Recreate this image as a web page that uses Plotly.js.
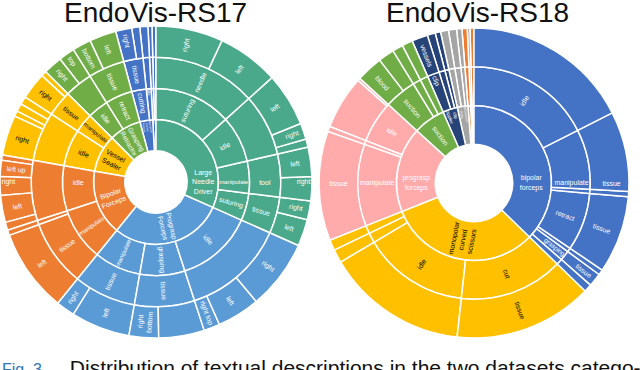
<!DOCTYPE html>
<html><head><meta charset="utf-8">
<script src="https://cdn.plot.ly/plotly-3.0.1.min.js"></script>
<style>html,body{margin:0;padding:0;background:#fff}#chart{width:640px;height:370px}</style>
</head><body><div id="chart"></div>
<script>
// ---------- EndoVis-RS17 (clockwise from 12 o'clock) ----------
const rs17Ids = ["R17",
 "LND","LND/sut","LND/sut/needle","LND/sut/needle/r","LND/sut/needle/l",
 "LND/idle","LND/idle/-","LND/idle/-/l","LND/idle/-/r","LND/idle/-/x",
 "LND/man","LND/man/tool","LND/man/tool/l","LND/man/tool/r",
 "LND/sut2","LND/sut2/tissue","LND/sut2/tissue/r","LND/sut2/tissue/l",
 "PF","PF/idle","PF/idle/-","PF/idle/-/r","PF/idle/-/l","PF/idle/-/rt",
 "PF/grasp","PF/grasp/tissue","PF/grasp/tissue/x","PF/grasp/tissue/rb",
 "PF/man","PF/man/tissue","PF/man/tissue/l","PF/man/tissue/r",
 "BF","BF/man","BF/man/tissue","BF/man/tissue/l","BF/man/-","BF/man/-/x",
 "BF/idle","BF/idle/-","BF/idle/-/x","BF/idle/-/l","BF/idle/-/r","BF/idle/-/lu","BF/idle/-/y",
 "VS","VS/idle","VS/idle/-","VS/idle/-/r","VS/idle/-/x","VS/idle/-/y","VS/idle/-/z",
 "VS/man","VS/man/tissue","VS/man/tissue/r","VS/man/tissue/x",
 "GR","GR/idle","GR/idle/-","GR/idle/-/r","GR/idle/-/t",
 "GR/ret","GR/ret/tissue","GR/ret/tissue/b","GR/ret/tissue/l",
 "MCS","MCS/cut","MCS/cut/tissue","MCS/cut/tissue/r","MCS/cut/tissue/x",
 "MCS/idle","MCS/idle/-","MCS/idle/-/x",
 "UP","UP/idle","UP/idle/-","UP/idle/-/x","UP/b","UP/b/-","UP/b/-/x"];
const rs17Labels = ["",
 "Large<br>Needle<br>Driver","suturing","needle","right","left",
 "idle","","left","right","",
 "manipulate","tool","left","right",
 "suturing","tissue","right","left",
 "Prograsp<br>Forceps","idle","","right","left","right top",
 "grasping","tissue","","right<br>bottom",
 "manipulate","tissue","left","right",
 "Bipolar<br>Forceps","manipulate","tissue","left","","",
 "idle","","","left","right","left up","",
 "Vessel<br>Sealer","idle","","right","","","",
 "manipulate","tissue","right","",
 "Grasping<br>Retractor","idle","","right","top",
 "retract","tissue","bottom","left",
 "Monopolar<br>Curved<br>Scissors","cutting","tissue","right","",
 "idle","","",
 "Ultrasound<br>Probe","idle","","","","",""];
const rs17Parents = rs17Ids.map(id => id === "R17" ? "" : (id.includes("/") ? id.slice(0, id.lastIndexOf("/")) : "R17"));
const rs17Values = [0,
 0,0,0,25,23,
 0,0,20,6,3,
 0,0,11,9,
 0,0,7,10,
 0,0,0,26,16,6,
 0,0,17,11,
 0,0,22,7,
 0,0,0,31,0,2,
 0,0,3,10,7,6,2,
 0,0,0,15,2,3,3,
 0,0,10,2,
 0,0,0,7,6,
 0,0,7,10,
 0,0,0,6,3,
 0,0,3,
 0,0,0,1.5,0,0,1.5];

// ---------- EndoVis-RS18 ----------
const rs18Ids = ["R18",
 "BPF","BPF/idle","BPF/idle/-","BPF/man","BPF/man/t","BPF/a","BPF/a/-",
 "BPF/ret","BPF/ret/t","BPF/b","BPF/b/-","BPF/gr","BPF/gr/t","BPF/c","BPF/c/-",
 "MCS","MCS/cut","MCS/cut/t","MCS/idle","MCS/idle/-","MCS/a","MCS/a/-","MCS/b","MCS/b/-",
 "PGF","PGF/man","PGF/man/t","PGF/a","PGF/a/-","PGF/idle","PGF/idle/-","PGF/idle/x",
 "SUC","SUC/suc","SUC/suc/blood","SUC/suc/-","SUC/a","SUC/a/-","SUC/b","SUC/b/-",
 "CA","CA/clip","CA/clip/v","CA/a","CA/a/-","CA/b","CA/b/-",
 "US","US/a","US/a/-","US/b","US/b/-","US/c","US/c/-",
 "LN","LN/a","LN/a/-",
 "ST","ST/a","ST/a/-",
 "OT","OT/a","OT/a/-"];
const rs18Labels = ["",
 "bipolar<br>forceps","idle","","manipulate","tissue","","",
 "retract","tissue","","","grasping","tissue","","",
 "monopolar<br>curved<br>scissors","cut","tissue","idle","","","","","",
 "prograsp<br>forceps","manipulate","tissue","","","idle","","",
 "suction","suction","blood","","","","","",
 "clip<br>applier","clip","vessels","","","","",
 "ultrasound<br>probe","","","","","","",
 "large needle<br>driver","","",
 "stapler","","",
 "other","",""];
const rs18Parents = rs18Ids.map(id => id === "R18" ? "" : (id.includes("/") ? id.slice(0, id.lastIndexOf("/")) : "R18"));
const rs18Values = [0,
 0,0,63,0,30,0,2,
 0,29,0,2,0,5,0,3,
 0,0,52,0,53,0,5,0,4,
 0,0,41,0,2,0,20,1,
 0,0,10,6,0,4,0,4,
 0,0,6,0,3,0,2,
 0,0,3,0,3,0,2,
 0,0,2,
 0,0,1,
 0,0,1.5];

// ---------- styles ----------
const rs17Colors = {LND:"#4aa98a", PF:"#5b9bd5", BF:"#ed7d31", VS:"#ffc000", GR:"#70ad47", MCS:"#4472c4", UP:"#4472c4"};
const rs18Colors = {BPF:"#4472c4", MCS:"#ffc000", PGF:"#ffabab", SUC:"#70ad47", CA:"#264478", US:"#a5a5a5", LN:"#ed7d31", ST:"#a5a5a5", OT:"#ed7d31"};
const darkText = {VS:true, MCS18:true};

function makeTrace(ids, labels, parents, values, colors, rootId, darkKey, domain) {
  const n = ids.length;
  const order = ids.map((_, i) => n - 1 - i); // reverse: plotly lays out counter-clockwise
  const top = id => id === rootId ? null : id.split("/")[0];
  const fill = ids.map(id => top(id) ? colors[top(id)] : "#ffffff");
  const tcol = ids.map(id => top(id) === darkKey ? "#000000" : "#ffffff");
  const pick = a => order.map(i => a[i]);
  return {
    type: "sunburst",
    ids: pick(ids), labels: pick(labels), parents: pick(parents), values: pick(values),
    branchvalues: "remainder", sort: false, rotation: 90,
    marker: {colors: pick(fill), line: {color: "#ffffff", width: 1.5}},
    leaf: {opacity: 1},
    insidetextorientation: "radial",
    insidetextfont: {family: "Liberation Sans, Arial, sans-serif", size: 7, color: pick(tcol)},
    textinfo: "label", hoverinfo: "skip",
    domain: domain
  };
}

const traces = [
  makeTrace(rs17Ids, rs17Labels, rs17Parents, rs17Values, rs17Colors, "R17", "VS",
            {x: [0, 312/640], y: [32/370, 344/370]}),
  makeTrace(rs18Ids, rs18Labels, rs18Parents, rs18Values, rs18Colors, "R18", "MCS",
            {x: [319/640, 629/640], y: [32/370, 342/370]})
];

const layout = {
  width: 640, height: 370,
  margin: {l: 0, r: 0, t: 0, b: 0},
  paper_bgcolor: "#ffffff",
  showlegend: false,
  uniformtext: {minsize: 5.5, mode: "hide"},
  annotations: [
    {text: "EndoVis-RS17", x: 155/640, y: (370-12)/370, xref: "paper", yref: "paper",
     xanchor: "center", yanchor: "middle", showarrow: false,
     font: {family: "Liberation Sans, Arial, sans-serif", size: 28, color: "#111"}},
    {text: "EndoVis-RS18", x: 477/640, y: (370-12)/370, xref: "paper", yref: "paper",
     xanchor: "center", yanchor: "middle", showarrow: false,
     font: {family: "Liberation Sans, Arial, sans-serif", size: 28, color: "#111"}},
    {text: '<span style="color:#2e75b6;font-size:16px">Fig. 3.</span>\u00a0\u00a0\u00a0\u00a0Distribution of textual descriptions in the two datasets catego-',
     x: 0, y: 16/370, xref: "paper", yref: "paper", xanchor: "left", yanchor: "top",
     showarrow: false, align: "left",
     font: {family: "Liberation Sans, Arial, sans-serif", size: 21, color: "#111"}}
  ]
};

Plotly.newPlot("chart", traces, layout, {displayModeBar: false, staticPlot: true});
</script>
</body></html>
